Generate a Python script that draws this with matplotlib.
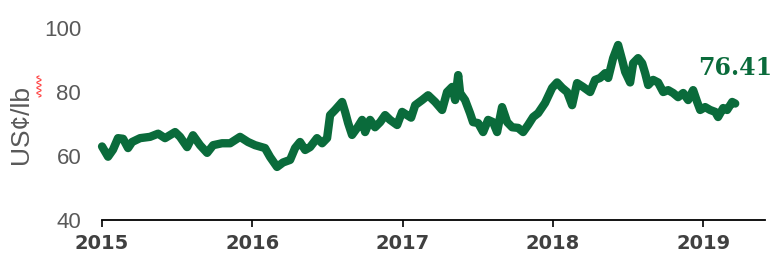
import numpy as np
import matplotlib.pyplot as plt
from matplotlib.lines import Line2D

# sugar price, US cents per lb (decimal years)
t = [2015.000, 2015.040, 2015.073, 2015.106, 2015.140, 2015.173, 2015.200, 2015.253,
     2015.319, 2015.373, 2015.419, 2015.486, 2015.519, 2015.566, 2015.605, 2015.652,
     2015.699, 2015.739, 2015.798, 2015.852, 2015.918, 2015.971, 2016.018, 2016.084,
     2016.118, 2016.164, 2016.204, 2016.251, 2016.284, 2016.317, 2016.351, 2016.384,
     2016.430, 2016.464, 2016.497, 2016.517, 2016.550, 2016.597, 2016.617, 2016.637,
     2016.663, 2016.697, 2016.730, 2016.750, 2016.783, 2016.816, 2016.850, 2016.883,
     2016.916, 2016.963, 2016.996, 2017.029, 2017.056, 2017.083, 2017.129, 2017.169,
     2017.216, 2017.262, 2017.295, 2017.329, 2017.349, 2017.369, 2017.382, 2017.415,
     2017.448, 2017.468, 2017.502, 2017.535, 2017.568, 2017.601, 2017.628, 2017.661,
     2017.695, 2017.728, 2017.768, 2017.801, 2017.834, 2017.868, 2017.901, 2017.947,
     2017.994, 2018.027, 2018.061, 2018.094, 2018.127, 2018.160, 2018.200, 2018.247,
     2018.280, 2018.313, 2018.347, 2018.367, 2018.400, 2018.433, 2018.460, 2018.480,
     2018.513, 2018.533, 2018.566, 2018.593, 2018.613, 2018.633, 2018.666, 2018.699,
     2018.733, 2018.766, 2018.799, 2018.832, 2018.866, 2018.899, 2018.932, 2018.959,
     2018.979, 2019.012, 2019.045, 2019.079, 2019.098, 2019.132, 2019.158, 2019.192,
     2019.212]
price = [63.0, 59.8, 62.0, 65.6, 65.4, 62.5, 64.4, 65.6,
         66.0, 67.0, 65.6, 67.5, 66.0, 62.8, 66.5, 63.4,
         61.0, 63.4, 64.0, 64.0, 66.0, 64.4, 63.4, 62.5,
         59.7, 56.6, 58.0, 58.8, 62.5, 64.4, 61.9, 62.8,
         65.6, 64.0, 65.6, 72.8, 74.4, 76.9, 73.8, 70.3,
         66.6, 68.8, 71.3, 67.5, 71.3, 69.0, 70.6, 72.8,
         71.3, 69.7, 73.8, 72.8, 72.0, 75.9, 77.5, 79.0,
         76.9, 74.4, 80.0, 81.6, 77.5, 85.3, 79.7, 77.5,
         73.4, 70.6, 70.3, 67.5, 71.3, 70.6, 67.5, 75.3,
         70.6, 69.0, 68.8, 67.5, 69.7, 72.2, 73.4, 76.6,
         81.3, 83.0, 81.3, 80.0, 75.9, 82.8, 81.6, 80.0,
         83.8, 84.4, 85.9, 84.4, 90.6, 94.7, 90.0, 86.3,
         83.0, 89.0, 90.6, 89.0, 85.9, 82.2, 83.8, 83.0,
         80.0, 80.6, 79.7, 78.4, 79.7, 77.5, 80.6, 76.9,
         74.4, 75.3, 74.4, 73.8, 72.2, 75.0, 74.4, 76.9,
         76.41]
years = [2015, 2016, 2017, 2018, 2019]
yticks = [40, 60, 80, 100]
last_label = "76.41"

green = '#0a6b3b'
grey = '#595959'

fig = plt.figure(figsize=(7.79, 2.62), dpi=100)
ax = fig.add_axes([0.131, 0.160, 0.851, 0.733])

ax.plot(t, price, color=green, lw=6, solid_joinstyle='round',
        solid_capstyle='round', clip_on=False)

ax.set_xlim(2015, 2019.41)
ax.set_ylim(40, 100)
ax.set_xticks(years)
ax.set_xticklabels([str(y) for y in years], fontsize=14, fontweight='bold',
                   color='#404040', family='DejaVu Sans')
ax.set_yticks(yticks)
ax.set_yticklabels([str(v) for v in yticks], fontsize=16, color=grey,
                   family='Liberation Sans')
ax.tick_params(axis='y', length=0, pad=15)
ax.tick_params(axis='x', length=5, width=1.2, direction='out', pad=5)

for s in ['top', 'right', 'left']:
    ax.spines[s].set_visible(False)
ax.spines['bottom'].set_linewidth(1.3)

ax.set_ylabel('US¢/lb', fontsize=19, color=grey, family='Liberation Sans',
              labelpad=8)

ax.text(t[-1], 87.5, last_label, color=green, fontsize=17, fontweight='bold',
        family='DejaVu Serif', ha='center', va='center')

# red spell-check squiggle under "lb"
yy = np.linspace(0.63, 0.71, 25)
xx = 0.050 + 0.003 * np.sin(np.linspace(0, 8 * np.pi, 25))
fig.add_artist(Line2D(xx, yy, color='#ff4040', lw=0.8))

fig.savefig('out.png', dpi=100)
